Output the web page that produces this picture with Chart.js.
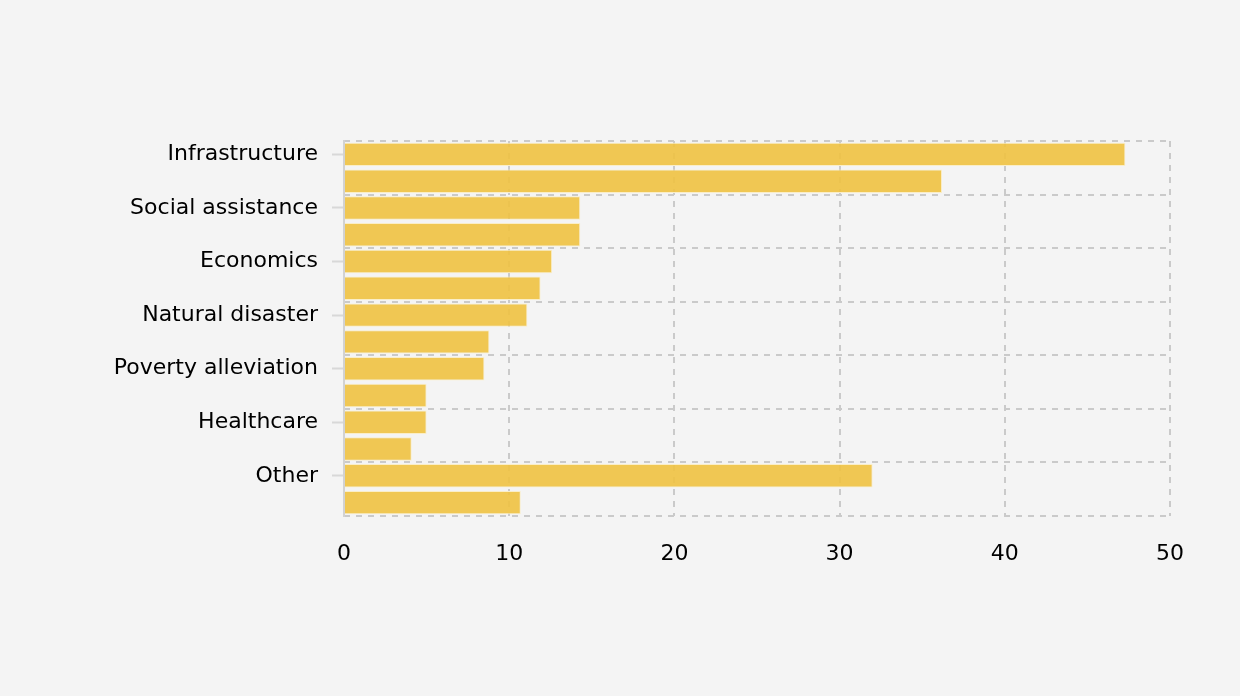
<!DOCTYPE html>
<html>
<head>
<meta charset="utf-8">
<script src="https://cdn.jsdelivr.net/npm/chart.js@4/dist/chart.umd.min.js"></script>
<style>
  html, body { margin: 0; padding: 0; background: #f4f4f4; }
  #wrap { width: 1240px; height: 696px; }
</style>
</head>
<body>
<div id="wrap"><canvas id="c" width="1240" height="696"></canvas></div>
<script>
const categories = ['Infrastructure', '', 'Social assistance', '', 'Economics', '', 'Natural disaster', '', 'Poverty alleviation', '', 'Healthcare', '', 'Other', ''];
const values = [47.3, 36.2, 14.3, 14.3, 12.6, 11.9, 11.1, 8.8, 8.5, 5.0, 5.0, 4.1, 32.0, 10.7];
const xTicks = [0, 10, 20, 30, 40, 50];

const gridColor = '#cacaca';
const font = { family: '"DejaVu Sans", Verdana, sans-serif', size: 22 };

new Chart(document.getElementById('c'), {
  type: 'bar',
  data: {
    labels: categories,
    datasets: [{
      data: values,
      backgroundColor: 'rgba(239,194,68,0.92)',
      borderColor: 'rgba(250,238,200,1)',
      borderWidth: 1,
      barPercentage: 0.875,
      categoryPercentage: 1.0,
      yAxisID: 'y'
    }]
  },
  options: {
    indexAxis: 'y',
    responsive: false,
    animation: false,
    devicePixelRatio: 1,
    layout: { padding: { top: 141, right: 70, bottom: 120, left: 0 } },
    plugins: { legend: { display: false }, tooltip: { enabled: false } },
    scales: {
      x: {
        type: 'linear',
        min: 0, max: 50,
        afterBuildTicks: (s) => { s.ticks = xTicks.map(v => ({ value: v })); },
        afterFit: (s) => { s.height = 60; },
        border: { display: false, dash: [6, 6] },
        grid: {
          drawTicks: false,
          color: (ctx) => (ctx.tick && ctx.tick.value === 0) ? 'rgba(0,0,0,0)' : gridColor,
          lineWidth: 2
        },
        ticks: { color: '#000', font: font, padding: 25, maxRotation: 0 }
      },
      y: {
        type: 'category',
        position: 'left',
        offset: true,
        afterFit: (s) => { s.width = 344; },
        border: { display: true, color: '#d2d2d2', width: 2 },
        grid: {
          offset: false,
          drawOnChartArea: false,
          drawTicks: true,
          tickLength: 12,
          tickWidth: 2,
          tickColor: (ctx) => (ctx.index % 2 === 0) ? '#d8d8d8' : 'rgba(0,0,0,0)'
        },
        ticks: { autoSkip: false, color: '#000', font: font, padding: 14 }
      },
      y2: {
        type: 'category',
        position: 'right',
        offset: true,
        labels: categories,
        afterFit: (s) => { s.width = 0; },
        border: { display: false, dash: [6, 6] },
        grid: {
          offset: true,
          drawTicks: false,
          lineWidth: 2,
          color: (ctx) => (ctx.index === undefined || ctx.index % 2 === 0) ? gridColor : 'rgba(0,0,0,0)'
        },
        ticks: { display: false }
      }
    }
  }
});
</script>
</body>
</html>
